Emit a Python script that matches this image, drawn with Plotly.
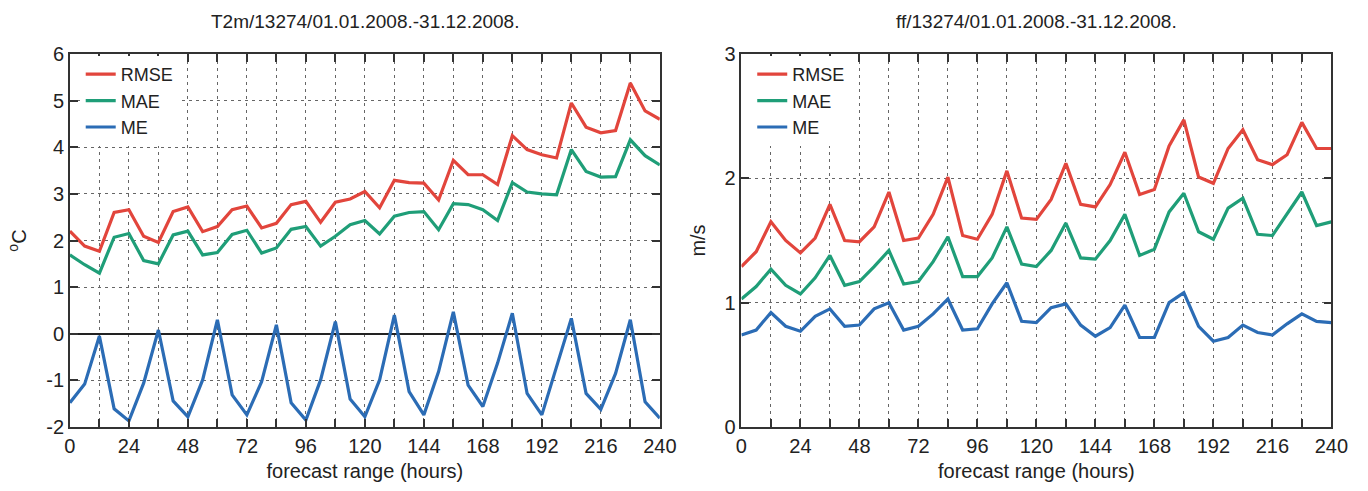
import plotly.graph_objects as go

hours = list(range(0, 241, 6))

t2m_rmse = [2.20, 1.88, 1.77, 2.60, 2.66, 2.09, 1.96, 2.62, 2.72, 2.19, 2.30, 2.66, 2.74, 2.27,
            2.37, 2.77, 2.84, 2.39, 2.82, 2.89, 3.05, 2.70, 3.29, 3.24, 3.23, 2.87, 3.72, 3.41,
            3.41, 3.20, 4.25, 3.95, 3.84, 3.77, 4.95, 4.43, 4.31, 4.36, 5.38, 4.78, 4.60]
t2m_mae = [1.69, 1.48, 1.30, 2.07, 2.15, 1.57, 1.50, 2.12, 2.20, 1.69, 1.74, 2.13, 2.22, 1.73,
           1.84, 2.24, 2.30, 1.88, 2.09, 2.34, 2.43, 2.14, 2.52, 2.60, 2.62, 2.23, 2.79, 2.77,
           2.66, 2.43, 3.24, 3.04, 3.00, 2.98, 3.95, 3.48, 3.36, 3.37, 4.16, 3.82, 3.62]
t2m_me = [-1.48, -1.08, -0.05, -1.61, -1.87, -1.06, 0.08, -1.44, -1.78, -0.99, 0.30, -1.31,
          -1.74, -1.03, 0.19, -1.48, -1.85, -0.99, 0.26, -1.40, -1.78, -0.99, 0.40, -1.24,
          -1.74, -0.81, 0.47, -1.10, -1.56, -0.63, 0.44, -1.28, -1.74, -0.70, 0.33, -1.28,
          -1.62, -0.85, 0.30, -1.46, -1.81]

ff_rmse = [1.29, 1.41, 1.65, 1.50, 1.40, 1.52, 1.79, 1.50, 1.49, 1.61, 1.89, 1.50, 1.52, 1.71,
           2.01, 1.54, 1.51, 1.71, 2.06, 1.68, 1.67, 1.83, 2.12, 1.79, 1.77, 1.95, 2.21, 1.87,
           1.91, 2.26, 2.47, 2.01, 1.96, 2.24, 2.39, 2.15, 2.11, 2.19, 2.45, 2.24, 2.24]
ff_mae = [1.03, 1.13, 1.27, 1.14, 1.07, 1.20, 1.38, 1.14, 1.17, 1.29, 1.42, 1.15, 1.17, 1.33,
          1.53, 1.21, 1.21, 1.36, 1.61, 1.31, 1.29, 1.42, 1.64, 1.36, 1.35, 1.50, 1.71, 1.38,
          1.43, 1.73, 1.88, 1.57, 1.51, 1.76, 1.84, 1.55, 1.54, 1.72, 1.89, 1.62, 1.65]
ff_me = [0.74, 0.78, 0.92, 0.81, 0.77, 0.89, 0.95, 0.81, 0.82, 0.95, 1.00, 0.78, 0.81, 0.91,
         1.03, 0.78, 0.79, 0.99, 1.16, 0.85, 0.84, 0.96, 0.99, 0.82, 0.73, 0.80, 0.98, 0.72,
         0.72, 1.00, 1.08, 0.81, 0.69, 0.72, 0.82, 0.76, 0.74, 0.83, 0.91, 0.85, 0.84]

series_names = ["RMSE", "MAE", "ME"]
colors = ["#e2453c", "#1f9e78", "#2b6cb5"]
titles = ["T2m/13274/01.01.2008.-31.12.2008.", "ff/13274/01.01.2008.-31.12.2008."]
x_tickvals = list(range(0, 241, 24))
y1_tickvals = list(range(-2, 7))
y1_ticktext = [str(v).replace("\u2212", "-") for v in y1_tickvals]
y2_tickvals = [0, 1, 2, 3]

W, H = 1368, 491
L1, R1 = 65, 665
L2, R2 = 748, 1348
TOP, BOT = 54, 427

fig = go.Figure()
font = "Liberation Sans, Arial, Helvetica, sans-serif"
TXT = "#222222"

for i, (vals, leg) in enumerate([([t2m_rmse, t2m_mae, t2m_me], "legend"),
                                 ([ff_rmse, ff_mae, ff_me], "legend2")]):
    ax = "" if i == 0 else "2"
    for name, v, c in zip(series_names, vals, colors):
        fig.add_trace(go.Scatter(x=hours, y=v, mode="lines", name=name,
                                 line=dict(color=c, width=3.2),
                                 xaxis="x" + ax, yaxis="y" + ax, legend=leg))

grid = dict(showgrid=True, gridcolor="#666666", gridwidth=1, griddash="3px,4px")
common_axis = dict(showline=True, linecolor="#333333", linewidth=1.5, mirror="ticks",
                   ticks="inside", ticklen=8, tickwidth=1.5, tickcolor="#333333",
                   tickfont=dict(size=20, color=TXT, family=font), **grid)
minor_x = dict(dtick=12, ticks="inside", ticklen=8, tickwidth=1.5, tickcolor="#333333", **grid)

fig.update_layout(
    width=W, height=H,
    margin=dict(l=0, r=0, t=TOP, b=H - BOT),
    plot_bgcolor="white", paper_bgcolor="white",
    font=dict(family=font, color=TXT),
    xaxis=dict(domain=[L1 / W, R1 / W], range=[0, 240], tickvals=x_tickvals, minor=minor_x,
               title=dict(text="forecast range (hours)", font=dict(size=20), standoff=8),
               zeroline=False, anchor="y", **common_axis),
    yaxis=dict(range=[-2, 6], tickvals=y1_tickvals, ticktext=y1_ticktext, anchor="x",
               title=dict(text="<sup>o</sup>C", font=dict(size=20), standoff=14),
               zeroline=True, zerolinecolor="#222222", zerolinewidth=1.5, **common_axis),
    xaxis2=dict(domain=[L2 / W, R2 / W], range=[0, 240], tickvals=x_tickvals, minor=minor_x,
                title=dict(text="forecast range (hours)", font=dict(size=20), standoff=8),
                zeroline=False, anchor="y2", **common_axis),
    yaxis2=dict(range=[0, 3], tickvals=y2_tickvals, anchor="x2",
                title=dict(text="m/s", font=dict(size=20), standoff=14),
                zeroline=False, **common_axis),
    legend=dict(x=76 / W, y=1 - 2 / (BOT - TOP),
                xanchor="left", yanchor="top", bgcolor="white",
                font=dict(size=18, family=font), tracegroupgap=0, itemwidth=30),
    legend2=dict(x=759 / W, y=1 - 2 / (BOT - TOP),
                 xanchor="left", yanchor="top", bgcolor="white",
                 font=dict(size=18, family=font), tracegroupgap=0, itemwidth=30),
    showlegend=True,
)

for cx, t in zip([(L1 + R1) / 2, (L2 + R2) / 2], titles):
    fig.add_annotation(text=t, x=cx / W, xref="paper", xanchor="center",
                       y=1 + (TOP - 22) / (BOT - TOP), yref="paper", yanchor="middle",
                       showarrow=False, font=dict(size=19, family=font, color=TXT))

fig.write_html("out.html")
